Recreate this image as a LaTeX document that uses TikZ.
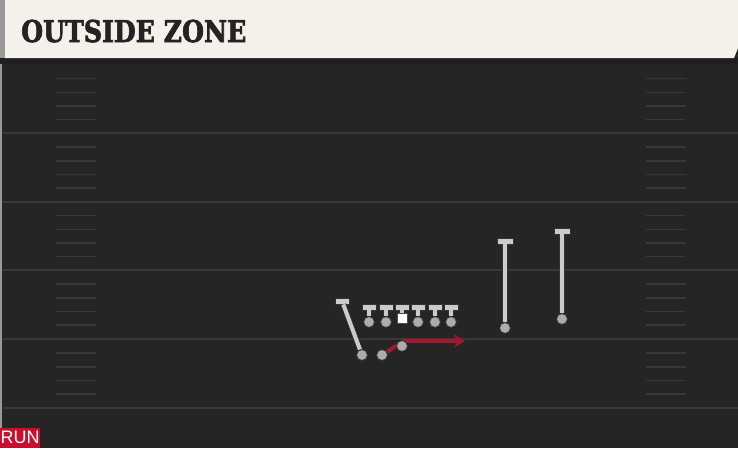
\documentclass[tikz,border=0pt]{standalone}
\usepackage{fontspec}
\usepackage{xcolor}
\usetikzlibrary{positioning,arrows.meta}

\newfontfamily\titlefont[BoldFeatures={FakeBold=2.5}]{DejaVu Serif}
\newfontfamily\tagfont{Liberation Sans}

\definecolor{turf}{HTML}{252525}
\definecolor{turfline}{HTML}{383838}
\definecolor{cream}{HTML}{F4F1EA}
\definecolor{ink}{HTML}{232323}
\definecolor{routered}{HTML}{A3172F}
\definecolor{tagred}{HTML}{C8102E}
\definecolor{helmet}{HTML}{CBCBCB}

\begin{document}
\begin{tikzpicture}[
    x=1pt, y=-1pt,
    yardline/.style={draw=turfline, line width=2pt},
    hash/.style={draw=turfline, line width=1.8pt},
    player/.style={circle, draw=black!80, fill=gray!65, minimum size=11pt, inner sep=0pt, line width=0.9pt},
    bar/.style={rectangle, draw=black!80, fill=helmet, minimum width=14pt, minimum height=6pt, inner sep=0pt, line width=0.9pt},
    widebar/.style={bar, minimum width=16pt},
    stem/.style={draw=black!80, double=helmet, double distance=4pt, line width=0.9pt},
    route/.style={draw=routered, line width=4pt, -{Stealth[length=11pt, width=13pt]}}
]
\useasboundingbox (0,0) rectangle (738,448);

% Field
\fill[turf] (0,0) rectangle (738,448);
\fill[black!40] (0,59) rectangle (2,448);
\fill[black!88] (0,58) rectangle (738,64);
\foreach \y in {133,201.5,270,339,408} {
    \draw[yardline] (2,\y) -- (738,\y);
}
\foreach \t in {64.5,133,201.5,270,339} {
    \foreach \d in {14,28,41.5,55} {
        \draw[hash] (56,\t+\d) -- (96,\t+\d);
        \draw[hash] (646,\t+\d) -- (686,\t+\d);
    }
}

% Header
\fill[black!40] (0,0) rectangle (5,58);
\fill[cream] (5,0) -- (738,0) -- (738,48) -- (734,58) -- (5,58) -- cycle;
\node[anchor=base west, inner sep=0pt, text=ink] (title) at (21,42)
    {\scalebox{0.84}[1]{\titlefont\bfseries\fontsize{30}{30}\selectfont OUTSIDE ZONE}};

% Offensive line
\node[bar] (lt) at (369,307) {};
\node[player] (ltdot) at (369,322) {};
\node[bar] (lg) at (386,307) {};
\node[player] (lgdot) at (386,322) {};
\node[bar] (c) at (402,307) {};
\node[rectangle, fill=white, draw=black!70, minimum size=10pt, inner sep=0pt, line width=0.9pt] (cbox) at (402,318) {};
\node[bar] (rg) at (418,307) {};
\node[player] (rgdot) at (418,322) {};
\node[bar] (rtk) at (435,307) {};
\node[player] (rtdot) at (435,322) {};
\node[bar] (te) at (451,307) {};
\node[player] (tedot) at (451,322) {};
\draw[stem] (lt) -- (ltdot);
\draw[stem] (lg) -- (lgdot);
\draw[stem] (c) -- (cbox);
\draw[stem] (rg) -- (rgdot);
\draw[stem] (rtk) -- (rtdot);
\draw[stem] (te) -- (tedot);

% Left end
\node[bar] (le) at (342,301) {};
\node[player] (ledot) at (362,355) {};
\draw[stem] (le) -- (ledot);

% Receivers
\node[widebar] (wr1) at (505,241) {};
\node[player] (wr1dot) at (505,328) {};
\node[widebar] (wr2) at (562,231) {};
\node[player] (wr2dot) at (562,319) {};
\draw[stem] (wr1) -- (wr1dot);
\draw[stem] (wr2) -- (wr2dot);

% Running back path
\node[player] (rb) at (382,355) {};
\coordinate (cut) at (404,341);
\coordinate (hole) at (465,341);
\draw[route] (rb) -- (cut) -- (hole);
\node[player] (qb) at (402,346) {};

% Play tag
\node[rectangle, fill=tagred, text=white, anchor=south west, minimum width=40pt, minimum height=20pt, inner sep=0pt, font=\tagfont\fontsize{18}{18}\selectfont] (tag) at (0,448) {RUN};

\end{tikzpicture}
\end{document}
